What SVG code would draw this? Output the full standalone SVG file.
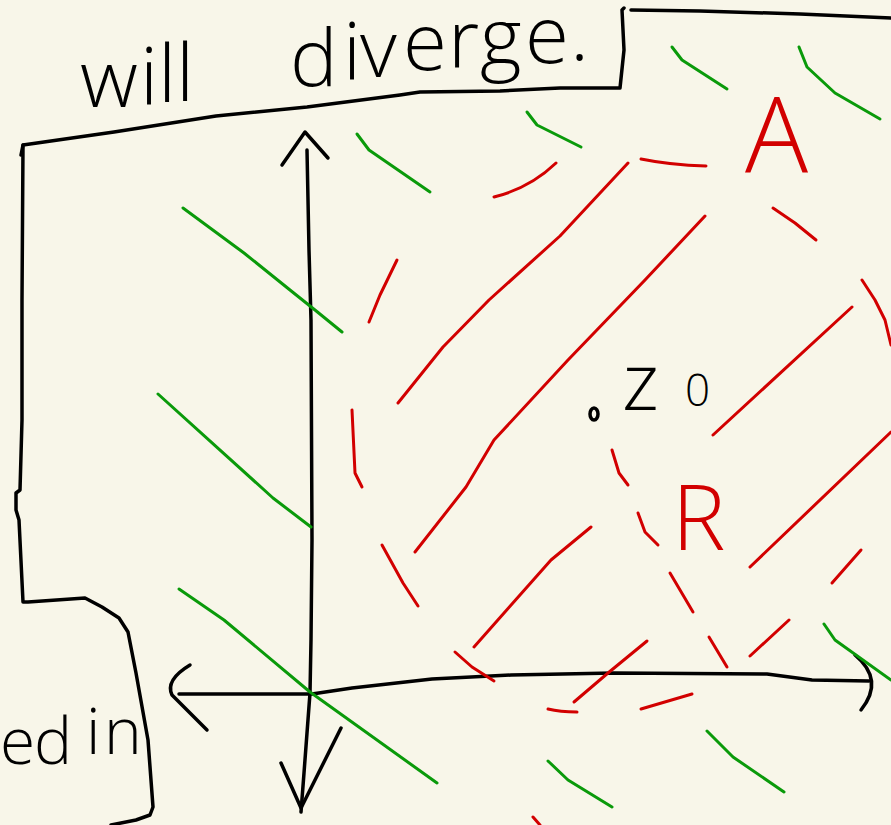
<svg xmlns="http://www.w3.org/2000/svg" width="891" height="825" viewBox="0 0 891 825">
<style>
.k{fill:none;stroke:#000;stroke-width:3.5;stroke-linecap:round;stroke-linejoin:round}
.r{fill:none;stroke:#d20000;stroke-width:3;stroke-linecap:round;stroke-linejoin:round}
.g{fill:none;stroke:#0a9a0a;stroke-width:3;stroke-linecap:round;stroke-linejoin:round}
.tk{font-family:"Open Sans","Liberation Sans",sans-serif;font-weight:300;fill:#000}
.tr{font-family:"Open Sans","Liberation Sans",sans-serif;font-weight:300;fill:#d20000}
</style>
<rect width="891" height="825" fill="#f8f6e9"/>
<g id="frame">
<path class="k" d="M631,10 L700,11 L800,14 L891,18"/>
<path class="k" d="M624,8 L622,10 L624,50 L620,88 L560,88 L500,91 L420,92 L400,95 L307,107 L216,116 L114,132 L23,145 L21,155"/>
<path class="k" d="M23,145 L22,300 L22,420 L20,490 L16,493 L16,510 L19,520 L23,602 L28,602 L85,598 L102,607 L119,618 L128,632 L136,673 L148,740 L153,807 L150,815 L136,820 L111,825"/>
</g>
<g id="axes">
<path class="k" d="M307,150 L309,250 L311,320 L312,540 L311,640 L310,693 L304,773 L301,812"/>
<path class="k" d="M282,165 L305,132 L328,158"/>
<path class="k" d="M281,763 L301,808 L341,728"/>
<path class="k" d="M179,694 L312,694 L352,688 L432,679 L511,675 L614,673 L767,674 L812,680 L869,681"/>
<path class="k" d="M190,665 Q165,680 172,695 L207,730"/>
<path class="k" d="M855,655 Q885,680 861,710"/>
<ellipse cx="594" cy="414" rx="4" ry="6" class="k"/>
</g>
<g id="green">
<path class="g" d="M672,47 L682,60 L727,89"/>
<path class="g" d="M799,47 L807,67 L835,93 L880,119"/>
<path class="g" d="M527,112 L537,125 L581,147"/>
<path class="g" d="M357,134 L369,150 L430,192"/>
<path class="g" d="M183,208 L244,253 L290,290 L315,310 L342,332"/>
<path class="g" d="M158,394 L273,498 L311,527"/>
<path class="g" d="M179,589 L224,620 L310,692 L437,783"/>
<path class="g" d="M548,761 L568,780 L612,807"/>
<path class="g" d="M707,731 L733,757 L784,792"/>
<path class="g" d="M824,624 L835,640 L891,680"/>
</g>
<g id="red">
<path class="r" d="M494,197 Q530,188 556,163"/>
<path class="r" d="M641,159 Q670,165 706,166"/>
<path class="r" d="M628,163 L560,236 L489,300 L443,347 L398,403"/>
<path class="r" d="M705,216 L645,280 L568,360 L494,440 L466,487 L415,552"/>
<path class="r" d="M852,307 L713,435"/>
<path class="r" d="M891,432 L750,567"/>
<path class="r" d="M862,280 L875,300 L885,320 L891,345"/>
<path class="r" d="M773,208 L795,223 L816,240"/>
<path class="r" d="M397,260 L380,295 L369,322"/>
<path class="r" d="M352,410 L355,473 L362,487"/>
<path class="r" d="M612,450 L619,473 L628,485"/>
<path class="r" d="M638,513 L645,532 L658,545"/>
<path class="r" d="M591,527 L551,560 L474,647"/>
<path class="r" d="M382,545 L403,583 L418,606"/>
<path class="r" d="M861,550 L832,583"/>
<path class="r" d="M670,573 L693,612"/>
<path class="r" d="M789,620 L750,656"/>
<path class="r" d="M709,637 L727,667"/>
<path class="r" d="M647,641 L608,673 L574,702"/>
<path class="r" d="M455,652 L472,667 L494,681"/>
<path class="r" d="M548,709 Q560,712 577,712"/>
<path class="r" d="M641,709 L692,694"/>
<path class="r" d="M533,817 L540,825"/>
</g>
<g id="labels">
<text class="tk" font-size="80" x="80 140 158 176 230 290 343 360 403 448 480 525 570" y="107 104 102 101 92 86 79 77 70 67 65 63 60">will diverge.</text>
<text class="tk" font-size="64" x="0 34 76 86 104" y="764 764 754 754 754">ed in</text>
<text class="tk" y="410"><tspan x="622" font-size="80">z</tspan><tspan x="685" font-size="44" y="406">0</tspan></text>
<text class="tr" font-size="105" x="745" y="173">A</text>
<text class="tr" font-size="90" x="672" y="550">R</text>
</g>
</svg>
